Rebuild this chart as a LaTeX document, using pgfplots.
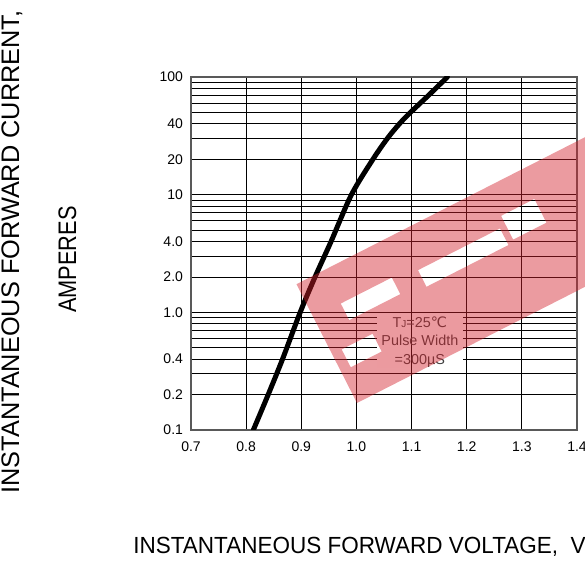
\documentclass[border=0pt]{standalone}
\usepackage{fontspec}
\setmainfont{Liberation Sans}
\newfontfamily\dejavu{DejaVu Sans}
\usepackage{graphicx}
\usepackage{pgfplots}
\pgfplotsset{compat=1.18}

\definecolor{wmred}{RGB}{211,33,44}

\begin{document}
\begin{tikzpicture}

\begin{axis}[
at={(143.25pt,99.75pt)}, anchor=south west,
scale only axis,
width=289.5pt, height=264.75pt,
ymode=log,
xmin=0.7, xmax=1.4,
ymin=0.1, ymax=100,
xtick={0.7,0.8,0.9,1.0,1.1,1.2,1.3,1.4},
xticklabels={0.7,0.8,0.9,1.0,1.1,1.2,1.3,1.4},
ytick={0.1,0.2,0.4,1,2,4,10,20,40,100},
yticklabels={0.1,0.2,0.4,1.0,2.0,4.0,10,20,40,100},
minor ytick={0.3,0.5,0.6,0.7,0.8,0.9,3,5,6,7,8,9,30,50,60,70,80,90},
grid=both,
major grid style={black, line width=0.6pt},
minor grid style={black, line width=0.6pt},
major tick length=0pt, minor tick length=0pt,
axis line style={black!65, line width=0.8pt},
tick label style={font=\fontsize{10.5}{12}\selectfont},
yticklabel style={xshift=-2.5pt},
xticklabel style={yshift=-5pt},
]
\addplot [black, line width=3.75pt, smooth, line cap=round]
coordinates {
(0.813,0.1)
(0.840,0.2)
(0.866,0.4)
(0.898,1.0)
(0.925,2.0)
(0.954,4.0)
(0.991,10)
(1.030,20)
(1.056,30)
(1.078,40)
(1.098,50)
(1.131,70)
(1.165,100)
};
% note box: white patch, the 1.1 line, then the text
\node [fill=white, inner sep=0pt, minimum width=64pt, minimum height=39pt]
  at (rel axis cs:0.593,0.249) {};
\draw [black, line width=0.6pt] (axis cs:1.1,0.28) -- (axis cs:1.1,1);
\node [align=center, text=black!75, inner sep=0pt,
  font=\fontsize{10.8}{13.7}\selectfont]
  at (rel axis cs:0.593,0.249)
  {T{\fontsize{7.5}{9}\selectfont J}=25{\dejavu ℃}\\Pulse Width\\=300µS};
\end{axis}

% axis titles
\node [rotate=90, inner sep=0pt, font=\fontsize{19}{22}\selectfont]
  at (9pt,233.25pt) {INSTANTANEOUS FORWARD CURRENT,};
\node [rotate=90, inner sep=0pt, font=\fontsize{19}{22}\selectfont]
  at (50.6pt,227.6pt) {\scalebox{0.86}[1]{AMPERES}};
\node [anchor=west, inner sep=0pt, font=\fontsize{17.5}{20}\selectfont]
  at (99.75pt,12.4pt) {\scalebox{0.965}[1]{INSTANTANEOUS FORWARD VOLTAGE,~~VOLTS}};

% watermark band with cut-outs
\begin{scope}[shift={(267.75pt,120pt)}, rotate=27]
\fill [wmred, opacity=0.45, even odd rule]
  (0pt,0pt) rectangle (330pt,100pt)
  (23pt,58pt) rectangle (66pt,72pt)
  (8pt,26pt) rectangle (34pt,41pt)
  (86pt,54pt) rectangle (155pt,68pt)
  (160pt,56pt) rectangle (188pt,76pt);
\end{scope}

\pgfresetboundingbox
\useasboundingbox (0pt,0pt) rectangle (438.75pt,422.25pt);
\end{tikzpicture}
\end{document}
